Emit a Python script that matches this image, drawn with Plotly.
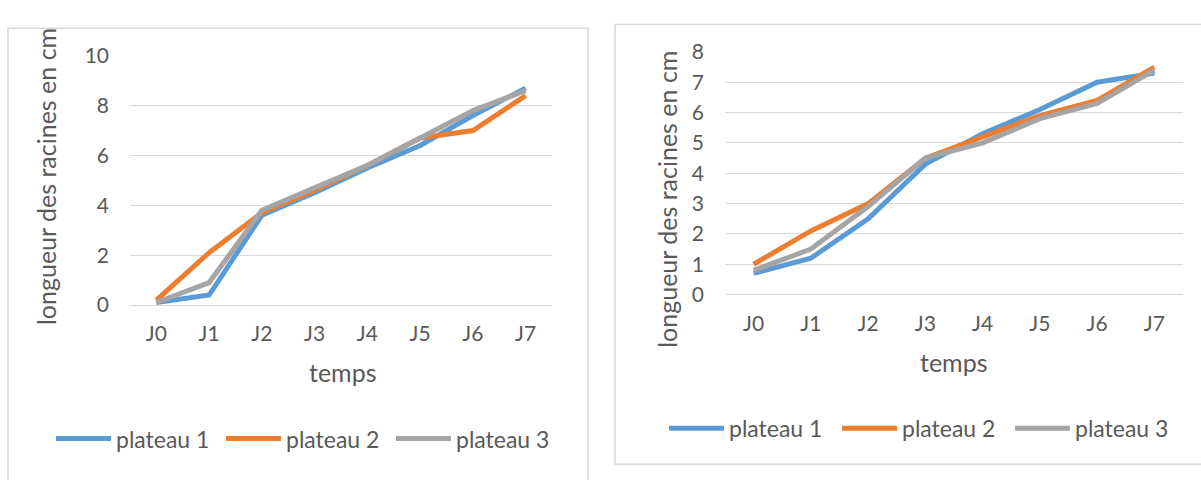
import plotly.graph_objects as go

W, H = 1201, 480

categories = ["J0", "J1", "J2", "J3", "J4", "J5", "J6", "J7"]
series_names = ["plateau 1", "plateau 2", "plateau 3"]

# Left chart values
left_p1 = [0.1, 0.4, 3.6, 4.5, 5.5, 6.4, 7.6, 8.7]
left_p2 = [0.2, 2.1, 3.7, 4.6, 5.6, 6.7, 7.0, 8.4]
left_p3 = [0.1, 0.9, 3.8, 4.7, 5.6, 6.7, 7.8, 8.6]

# Right chart values
right_p1 = [0.7, 1.2, 2.5, 4.3, 5.3, 6.1, 7.0, 7.3]
right_p2 = [1.0, 2.1, 3.0, 4.5, 5.2, 5.9, 6.4, 7.5]
right_p3 = [0.8, 1.5, 2.9, 4.5, 5.0, 5.8, 6.3, 7.4]

y_title = "longueur des racines en cm"
x_title = "temps"

colors = ["#5B9BD5", "#ED7D31", "#A5A5A5"]
FONT = "Lato"
TXT = "#595959"
GRID = "#D9D9D9"
TICK_SIZE = 21
TITLE_SIZE = 25
LEG_SIZE = 23

fig = go.Figure()

for name, vals, col in zip(series_names, [left_p1, left_p2, left_p3], colors):
    fig.add_trace(go.Scatter(x=categories, y=vals, name=name, mode="lines",
                             line=dict(color=col, width=5), xaxis="x", yaxis="y",
                             legend="legend"))
for name, vals, col in zip(series_names, [right_p1, right_p2, right_p3], colors):
    fig.add_trace(go.Scatter(x=categories, y=vals, name=name, mode="lines",
                             line=dict(color=col, width=5), xaxis="x2", yaxis="y2",
                             legend="legend2"))

def px_x(v):
    return v / W

def px_y(v):
    return 1 - v / H

xaxis_common = dict(type="category", range=[-0.5, 7.5], showgrid=False, zeroline=False,
                    showline=False, ticks="", ticklabelstandoff=14,
                    tickfont=dict(family=FONT, size=TICK_SIZE, color=TXT), fixedrange=True)
yaxis_common = dict(showgrid=True, gridcolor=GRID, gridwidth=1, zeroline=True,
                    zerolinecolor=GRID, zerolinewidth=1, showline=False, ticks="",
                    ticklabelstandoff=20, tickfont=dict(family=FONT, size=TICK_SIZE, color=TXT),
                    fixedrange=True)

fig.update_layout(
    width=W, height=H, autosize=False,
    margin=dict(l=0, r=0, t=0, b=0),
    paper_bgcolor="white", plot_bgcolor="white",
    font=dict(family=FONT, color=TXT),
    xaxis=dict(domain=[px_x(130), px_x(552)], anchor="y", **xaxis_common),
    yaxis=dict(domain=[px_y(307), px_y(44)], anchor="x", range=[0, 10], dtick=2, **yaxis_common),
    xaxis2=dict(domain=[px_x(725), px_x(1183)], anchor="y2", **xaxis_common),
    yaxis2=dict(domain=[px_y(296), px_y(40)], anchor="x2", range=[0, 8], dtick=1, **yaxis_common),
    legend=dict(orientation="h", x=px_x(51), y=px_y(448), xanchor="left", yanchor="middle",
                font=dict(family=FONT, size=LEG_SIZE, color=TXT), itemwidth=55,
                entrywidth=100, entrywidthmode="pixels", bgcolor="rgba(0,0,0,0)"),
    legend2=dict(orientation="h", x=px_x(664), y=px_y(437), xanchor="left", yanchor="middle",
                 font=dict(family=FONT, size=LEG_SIZE, color=TXT), itemwidth=55,
                 entrywidth=103, entrywidthmode="pixels", bgcolor="rgba(0,0,0,0)"),
    showlegend=True,
)

ann_common = dict(xref="paper", yref="paper", showarrow=False, xanchor="center",
                  yanchor="middle", font=dict(family=FONT, size=TITLE_SIZE, color=TXT))
annotations = [
    dict(text=x_title, x=px_x(343), y=px_y(378), **ann_common),
    dict(text=x_title, x=px_x(954), y=px_y(367), **ann_common),
    dict(text=y_title, x=px_x(46), y=px_y(172), textangle=-90, **ann_common),
    dict(text=y_title, x=px_x(667), y=px_y(196), textangle=-90, **ann_common),
]
fig.update_layout(annotations=annotations)

shapes = [
    dict(type="rect", xref="paper", yref="paper", x0=px_x(8), x1=px_x(588),
         y0=-0.2, y1=px_y(15), line=dict(color=GRID, width=1.5), layer="below"),
    dict(type="rect", xref="paper", yref="paper", x0=px_x(615), x1=1.2,
         y0=px_y(475), y1=px_y(11), line=dict(color=GRID, width=1.5), layer="below"),
]
fig.update_layout(shapes=shapes)

post = (
    "var gd=document.getElementById('{plot_id}');"
    "var de=document.documentElement;de.style.margin='0';de.style.padding='0';"
    "de.style.overflow='hidden';de.style.height='480px';"
    "var b=document.body;b.style.margin='0';b.style.padding='0';b.style.overflow='hidden';"
    "b.style.height='480px';"
    "gd.style.position='fixed';gd.style.top='0px';gd.style.left='0px';"
)
fig.write_html("out.html", config={"displayModeBar": False}, post_script=post)
